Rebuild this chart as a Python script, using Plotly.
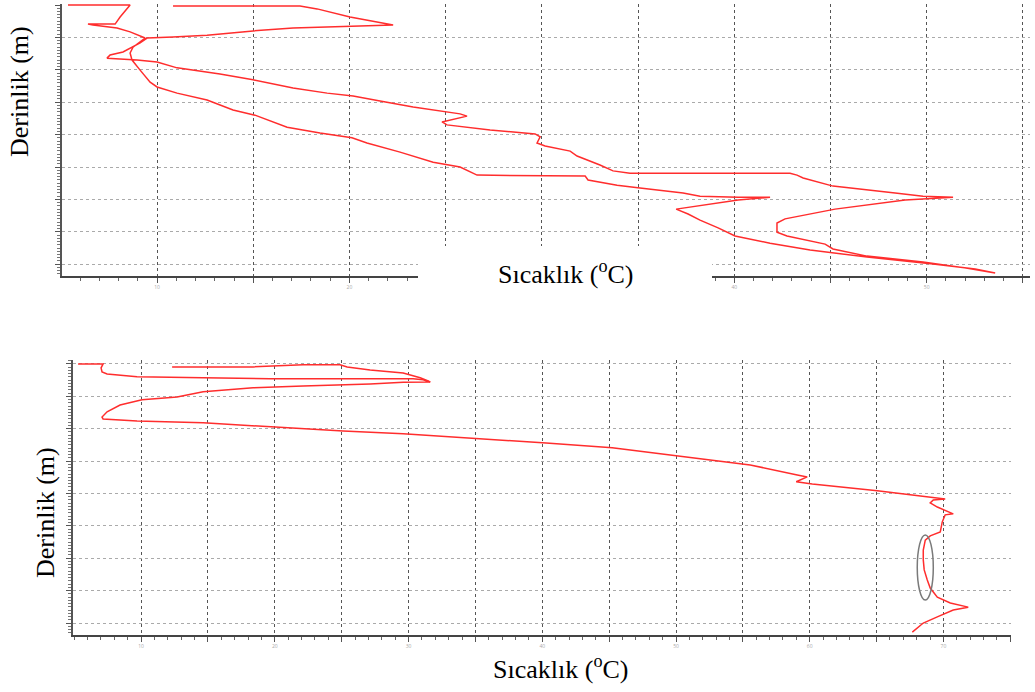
import plotly.graph_objects as go

# ---------------- data ----------------
# Panel 1 : one continuous profile (down and back up)
temp_1 = [5.37, 8.6, 8.08, 7.82, 6.41, 6.67, 7.92, 8.6, 9.38, 8.75, 8.6, 8.7, 9.12, 9.64, 10.0,
          11.04, 12.6, 13.95, 15.09, 16.76, 18.47, 20.13, 20.91, 22.63, 24.35, 25.75, 26.63,
          32.25, 32.4, 33.91, 35.1, 37.34, 38.22, 40.2, 41.86, 40.2, 36.98, 37.6, 38.22, 39.16,
          40.04, 41.86, 43.94, 46.9, 50.33, 52.52, 53.56,
          51.74, 49.81, 46.9, 45.13, 44.72, 42.74, 42.22, 42.22, 42.64, 45.24, 48.88, 51.37,
          49.81, 48.36, 45.13, 43.58, 43.26, 42.9, 40.41, 34.58, 33.7, 33.02, 31.83, 31.47,
          30.17, 29.75, 29.91, 29.65, 27.31, 25.07, 24.81, 26.11, 25.75, 25.07, 23.31, 21.59,
          20.19, 18.84, 17.07, 14.99, 13.27, 11.04, 10.0, 8.96, 7.4, 7.56, 8.23, 9.12, 9.48,
          10.83, 12.6, 14.99, 17.07, 22.27, 20.03, 18.32, 17.43, 10.83]
depth_1 = [0.0, 0.0, 3.7, 5.9, 5.9, 6.2, 7.1, 8.3, 10.2, 13.0, 14.8, 17.0, 20.1, 23.8, 25.3,
           27.2, 29.3, 32.4, 34.0, 37.7, 39.5, 41.0, 42.6, 45.4, 48.5, 50.0, 52.5,
           52.8, 54.0, 55.6, 56.5, 58.0, 59.0, 59.3, 59.3, 60.2, 63.0, 64.5, 66.4, 68.8,
           71.3, 73.5, 75.6, 77.8, 79.9, 81.5, 82.7,
           80.9, 79.3, 77.5, 75.3, 73.8, 71.3, 70.1, 67.3, 66.0, 63.0, 60.2, 59.3,
           59.0, 58.0, 55.9, 53.4, 52.5, 51.9, 51.9, 51.9, 51.2, 49.4, 46.6, 45.1,
           43.5, 42.6, 40.7, 39.8, 38.6, 37.0, 36.1, 34.3, 33.6, 33.0, 31.5, 29.6,
           28.1, 27.2, 25.6, 23.1, 21.3, 19.4, 17.6, 17.0, 16.4, 15.4, 14.5, 11.7, 10.2,
           9.9, 9.3, 8.0, 7.1, 6.2, 3.7, 1.2, 0.3, 0.3]

# Panel 2 : main profile
temp_2 = [5.29, 7.16, 7.01, 7.08, 7.46, 9.7, 14.64, 19.65, 24.66, 30.34, 31.09, 31.62,
          29.6, 27.13, 22.12, 18.38, 14.64, 12.69, 10.07, 8.43, 7.46, 7.08, 7.16, 9.7,
          14.64, 19.65, 25.11, 29.6, 34.61, 40.29, 45.23, 48.29, 50.54, 55.55, 59.07,
          59.81, 58.99, 60.19, 65.05, 67.74, 70.13, 69.24, 69.01, 69.54, 70.73, 70.13,
          69.91, 69.76, 69.01, 68.64, 68.49, 68.49, 68.56, 68.79, 69.01, 69.54, 70.51,
          71.85, 70.73, 69.54, 68.49, 67.67]
depth_2 = [0.0, 0.0, 1.24, 2.47, 3.09, 4.0, 4.3, 4.6, 4.6, 4.6, 4.9, 5.6,
           5.7, 6.2, 6.8, 7.4, 8.6, 10.2, 11.1, 12.7, 14.8, 16.4, 17.0, 17.6,
           18.2, 19.5, 20.7, 21.6, 22.9, 24.4, 25.9, 27.5, 28.7, 31.2, 34.3,
           34.9, 36.4, 37.1, 39.2, 40.5, 41.7, 42.0, 42.9, 44.2, 46.3, 46.6,
           48.8, 51.9, 53.1, 54.4, 57.5, 60.5, 63.6, 66.7, 69.2, 72.0, 73.8,
           75.1, 76.0, 78.1, 80.0, 82.8]
# Panel 2 : upper return branch near the surface
temp_2b = [31.62, 31.47, 30.87, 29.6, 27.13, 25.41, 24.88, 22.12, 18.38, 12.32]
depth_2b = [5.6, 5.25, 4.3, 2.8, 1.85, 0.93, 0.3, 0.3, 0.93, 0.93]

# highlighted zone (ellipse) in panel 2
ellipse_temp = [68.04, 69.24]
ellipse_depth = [52.8, 72.9]

# axis ticks
x1_ticks = [10, 15, 20, 25, 30, 35, 40, 45, 50, 55]
x1_text = ["10", "", "20", "", "", "", "40", "", "50", ""]
x2_ticks = [10, 15, 20, 25, 30, 35, 40, 45, 50, 55, 60, 65, 70, 75]
x2_text = ["10", "", "20", "", "30", "", "40", "", "50", "", "60", "", "70", ""]
y_ticks = [0, 10, 20, 30, 40, 50, 60, 70, 80]

x_title = "Sıcaklık (<sup>o</sup>C)"
y_title = "Derinlik (m)"

# ---------------- figure ----------------
W, H = 1035, 692
RED = "rgb(255,45,45)"
SERIF = "Liberation Serif, Times New Roman, serif"

fig = go.Figure()
fig.add_trace(go.Scatter(x=temp_1, y=depth_1, mode="lines", line=dict(color=RED, width=1.5),
                         xaxis="x", yaxis="y", showlegend=False, hoverinfo="skip"))
fig.add_trace(go.Scatter(x=temp_2, y=depth_2, mode="lines", line=dict(color=RED, width=1.5),
                         xaxis="x2", yaxis="y2", showlegend=False, hoverinfo="skip"))
fig.add_trace(go.Scatter(x=temp_2b, y=depth_2b, mode="lines", line=dict(color=RED, width=1.5),
                         xaxis="x2", yaxis="y2", showlegend=False, hoverinfo="skip"))


def px_x(p):
    return p / W


def px_y(p):
    return 1 - p / H


xcommon = dict(showgrid=True, gridcolor="#555", griddash="dot", gridwidth=1,
               zeroline=False, showline=True, linecolor="#444", linewidth=2,
               ticks="outside", ticklen=5, tickcolor="#555", tickwidth=1,
               tickfont=dict(size=5, color="#aaa"), tickmode="array",
               minor=dict(dtick=1, ticks="outside", ticklen=3, tickcolor="#666", showgrid=False))
ycommon = dict(showgrid=True, gridcolor="#aaa", griddash="dot", gridwidth=1,
               zeroline=False, showline=True, linecolor="#555", linewidth=2,
               ticks="outside", ticklen=5, tickcolor="#555", tickwidth=1,
               showticklabels=False, tickmode="array", tickvals=y_ticks,
               minor=dict(dtick=1, ticks="outside", ticklen=3, tickcolor="#777", showgrid=False))

fig.update_layout(
    width=W, height=H, margin=dict(l=0, r=0, t=0, b=0),
    paper_bgcolor="white", plot_bgcolor="white",
    xaxis=dict(domain=[px_x(62), px_x(1030)], range=[5.06, 55.37], anchor="y",
               tickvals=x1_ticks, ticktext=x1_text, **xcommon),
    yaxis=dict(domain=[px_y(276), px_y(4)], range=[83.64, -0.31], anchor="x", **ycommon),
    xaxis2=dict(domain=[px_x(73), px_x(1011)], range=[4.91, 75.05], anchor="y2",
                tickvals=x2_ticks, ticktext=x2_text, **xcommon),
    yaxis2=dict(domain=[px_y(635), px_y(360)], range=[83.7, -1.2], anchor="x2", **ycommon),
)

# white box behind the first x-axis title (the axis is interrupted there)
fig.add_shape(type="rect", xref="paper", yref="paper",
              x0=px_x(418), x1=px_x(712), y0=px_y(290), y1=px_y(246),
              fillcolor="white", line=dict(width=0), layer="above")

# ellipse marking a zone in panel 2
fig.add_shape(type="circle", xref="x2", yref="y2",
              x0=ellipse_temp[0], x1=ellipse_temp[1], y0=ellipse_depth[0], y1=ellipse_depth[1],
              line=dict(color="#7a7a7a", width=1.5), layer="above")

# axis titles
ann_font = dict(family=SERIF, size=26, color="black")
fig.add_annotation(text=x_title, xref="paper", yref="paper", x=px_x(565), y=px_y(272),
                   showarrow=False, font=ann_font, xanchor="center", yanchor="middle")
fig.add_annotation(text=x_title, xref="paper", yref="paper", x=px_x(560), y=px_y(667),
                   showarrow=False, font=ann_font, xanchor="center", yanchor="middle")
fig.add_annotation(text=y_title, xref="paper", yref="paper", x=px_x(20), y=px_y(92),
                   showarrow=False, font=ann_font, textangle=-90, xanchor="center", yanchor="middle")
fig.add_annotation(text=y_title, xref="paper", yref="paper", x=px_x(45), y=px_y(513),
                   showarrow=False, font=ann_font, textangle=-90, xanchor="center", yanchor="middle")

fig.write_html("out.html", config={"displayModeBar": False},
               post_script="document.body.style.margin='0';document.body.style.overflow='hidden';")
